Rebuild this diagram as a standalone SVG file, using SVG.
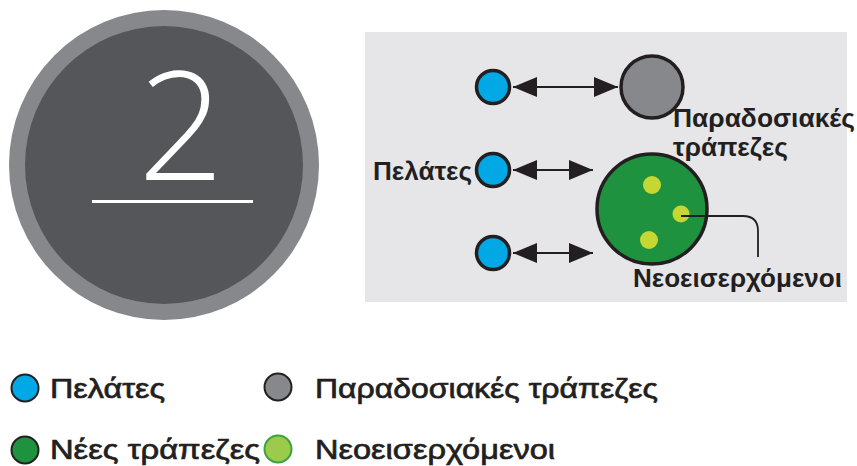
<svg xmlns="http://www.w3.org/2000/svg" width="857" height="466" viewBox="0 0 857 466">
<defs>
<style>
.ol{stroke:#231f20;stroke-width:3.5}
.blue{fill:#00a9e6}
.lbl{font-family:"Liberation Sans",Arial,sans-serif;font-weight:bold;font-size:25px;fill:#231f20}
.leg{font-family:"Liberation Sans",Arial,sans-serif;font-size:28px;fill:#231f20;stroke:#231f20;stroke-width:0.7}
.conn{stroke:#231f20;stroke-width:1.8;fill:none}
.dot{fill:#c6d733}
</style>
<marker id="ah" viewBox="0 0 24 20" refX="24" refY="10" markerWidth="24" markerHeight="20" markerUnits="userSpaceOnUse" orient="auto-start-reverse">
<path d="M0,0 L24,10 L0,20 Z" fill="#231f20"/>
</marker>
</defs>
<rect width="857" height="466" fill="#ffffff"/>
<g id="badge">
<circle cx="164" cy="165" r="155" fill="#86888c"/>
<circle cx="164" cy="165" r="139" fill="#55565a"/>
<text x="181" y="180" text-anchor="middle" font-family="'Open Sans',sans-serif" font-weight="300" font-size="151" fill="#ffffff">2</text>
<rect x="92" y="200" width="161" height="3" fill="#ffffff"/>
</g>
<rect id="panel" x="365" y="32" width="482" height="270" fill="#e6e6e8"/>
<g id="connectors">
<line class="conn" x1="513" y1="87" x2="618" y2="87" marker-start="url(#ah)" marker-end="url(#ah)"/>
<line class="conn" x1="513" y1="170" x2="593" y2="170" marker-start="url(#ah)" marker-end="url(#ah)"/>
<line class="conn" x1="513" y1="253" x2="593" y2="253" marker-start="url(#ah)" marker-end="url(#ah)"/>
</g>
<g id="client1"><circle class="blue ol" cx="493" cy="87" r="16.5"/></g>
<g id="client2"><circle class="blue ol" cx="493" cy="170" r="16.5"/><text class="lbl" x="373" y="180" textLength="99" lengthAdjust="spacingAndGlyphs">Πελάτες</text></g>
<g id="client3"><circle class="blue ol" cx="493" cy="253" r="16.5"/></g>
<g id="traditional-bank">
<circle class="ol" cx="652" cy="87" r="31" fill="#87888b"/>
<text class="lbl" x="673" y="127" textLength="182" lengthAdjust="spacingAndGlyphs">Παραδοσιακές</text>
<text class="lbl" x="673" y="156" textLength="115" lengthAdjust="spacingAndGlyphs">τράπεζες</text>
</g>
<g id="new-banks">
<circle class="ol" cx="652" cy="209" r="55" fill="#1f923f"/>
<circle class="dot" cx="652" cy="185" r="9"/>
<circle class="dot" cx="681" cy="214" r="8.5"/>
<circle class="dot" cx="649" cy="240" r="9"/>
</g>
<g id="newcomers-label">
<path class="conn" d="M681,216 H743 Q758,216 758,231 V257"/>
<text class="lbl" x="633" y="287" textLength="209" lengthAdjust="spacingAndGlyphs">Νεοεισερχόμενοι</text>
</g>
<g id="legend">
<g id="leg-clients"><circle cx="25" cy="388" r="13.5" fill="#00a9e6" stroke="#231f20" stroke-width="2"/><text class="leg" x="50" y="398" textLength="115" lengthAdjust="spacingAndGlyphs">Πελάτες</text></g>
<g id="leg-traditional"><circle cx="278" cy="387" r="13.5" fill="#87888b" stroke="#231f20" stroke-width="2"/><text class="leg" x="315" y="398" textLength="343" lengthAdjust="spacingAndGlyphs">Παραδοσιακές τράπεζες</text></g>
<g id="leg-new"><circle cx="25" cy="450" r="13.5" fill="#1f923f" stroke="#231f20" stroke-width="2"/><text class="leg" x="50" y="459" textLength="210" lengthAdjust="spacingAndGlyphs">Νέες τράπεζες</text></g>
<g id="leg-newcomers"><circle cx="278" cy="449" r="13.5" fill="#9ccb4c" stroke="#3aa33d" stroke-width="2"/><text class="leg" x="315" y="459" textLength="240" lengthAdjust="spacingAndGlyphs">Νεοεισερχόμενοι</text></g>
</g>
</svg>
